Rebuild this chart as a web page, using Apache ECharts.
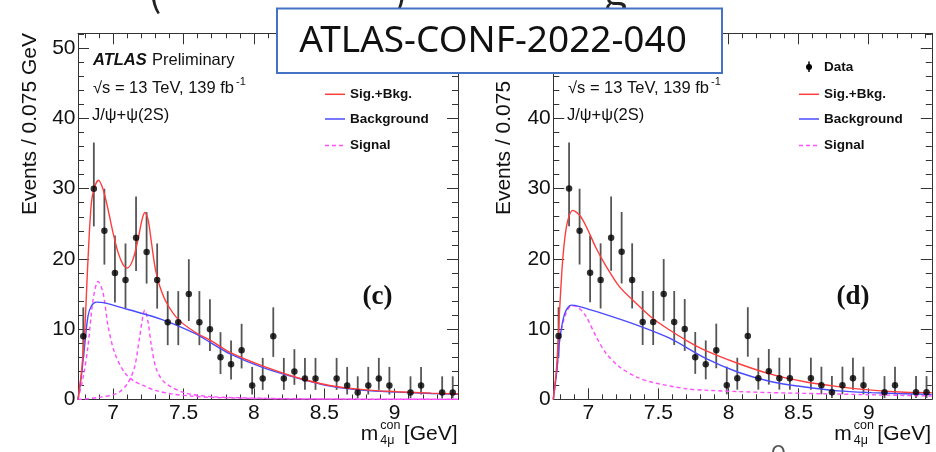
<!DOCTYPE html>
<html><head><meta charset="utf-8">
<script src="https://cdn.jsdelivr.net/npm/echarts/dist/echarts.min.js"></script>
<style>html,body{margin:0;padding:0;background:#fff}#c{width:936px;height:452px}</style>
</head><body><div id="c"></div>
<script>
// ---- data ----
const binCenters = [6.7875, 6.8625, 6.9375, 7.0125, 7.0875, 7.1625, 7.2375, 7.3125, 7.3875, 7.4625, 7.5375, 7.6125, 7.6875, 7.7625, 7.8375, 7.9125, 7.9875, 8.0625, 8.1375, 8.2125, 8.2875, 8.3625, 8.4375, 8.5875, 8.6625, 8.7375, 8.8125, 8.8875, 8.9625, 9.1125, 9.1875, 9.3375, 9.4125];
const counts = [9, 30, 24, 18, 17, 23, 21, 17, 11, 11, 15, 11, 10, 6, 5, 7, 2, 3, 9, 3, 4, 3, 3, 3, 2, 1, 2, 3, 2, 1, 2, 1, 1];
const errLow = [6.06, 24.63, 19.19, 13.81, 12.93, 18.29, 16.49, 12.93, 7.73, 7.73, 11.17, 7.73, 6.89, 3.62, 2.84, 4.42, 0.71, 1.37, 6.06, 1.37, 2.09, 1.37, 1.37, 1.37, 0.71, 0.17, 0.71, 1.37, 0.71, 0.17, 0.71, 0.17, 0.17];
const errHigh = [13.11, 36.56, 29.98, 23.32, 22.20, 28.87, 26.66, 22.20, 15.42, 15.42, 19.96, 15.42, 14.27, 9.58, 8.38, 10.77, 4.64, 5.92, 13.11, 5.92, 7.16, 5.92, 5.92, 5.92, 4.64, 3.30, 4.64, 5.92, 4.64, 3.30, 4.64, 3.30, 3.30];

const xTickLabels = [7, 7.5, 8, 8.5, 9];
const yTickLabels = [0, 10, 20, 30, 40, 50];

// panel (c)
const cSigBkgX = [6.75, 6.775, 6.797, 6.821, 6.845, 6.869, 6.895, 6.928, 6.964, 6.999, 7.035, 7.07, 7.10, 7.14, 7.177, 7.205, 7.225, 7.248, 7.272, 7.30, 7.331, 7.378, 7.462, 7.58, 7.70, 7.83, 8.07, 8.31, 8.54, 8.78, 9.02, 9.26, 9.45];
const cSigBkgY = [0, 4.0, 9.5, 19.9, 28.0, 30.3, 31.2, 29.9, 27.0, 23.7, 20.9, 19.2, 18.7, 19.9, 22.8, 25.6, 26.6, 25.6, 22.3, 18.5, 16.1, 13.8, 11.4, 9.6, 8.3, 6.7, 4.7, 3.1, 2.0, 1.4, 1.1, 0.9, 0.8];
const cBkgX = [6.75, 6.775, 6.797, 6.821, 6.845, 6.88, 6.94, 7.106, 7.343, 7.58, 7.70, 7.83, 8.07, 8.31, 8.54, 8.78, 9.02, 9.26, 9.45];
const cBkgY = [0, 3.5, 7.6, 11.85, 13.3, 13.85, 13.75, 12.8, 11.4, 9.4, 8.0, 6.5, 4.5, 3.05, 1.9, 1.3, 1.05, 0.85, 0.75];
const cSig1X = [6.75, 6.79, 6.821, 6.857, 6.892, 6.928, 6.964, 7.011, 7.082, 7.15, 7.225, 7.30, 7.414, 7.55, 7.70, 8.0, 8.5, 9.45];
const cSig1Y = [0, 3.5, 7.6, 14.2, 16.8, 15.2, 10.4, 6.6, 3.8, 2.6, 1.9, 1.3, 0.8, 0.5, 0.3, 0.15, 0.06, 0.02];
const cSig2X = [6.75, 6.9, 7.035, 7.106, 7.153, 7.189, 7.225, 7.248, 7.272, 7.307, 7.367, 7.51, 7.70, 7.90, 8.3, 9.45];
const cSig2Y = [0, 0.3, 0.95, 2.4, 4.7, 9.0, 12.7, 11.0, 7.6, 4.3, 2.4, 0.95, 0.4, 0.25, 0.1, 0.03];

// panel (d)
const dSigBkgX = [6.75, 6.775, 6.795, 6.819, 6.848, 6.89, 6.938, 6.985, 7.056, 7.128, 7.223, 7.342, 7.46, 7.58, 7.698, 7.83, 8.069, 8.307, 8.544, 8.781, 9.02, 9.257, 9.45];
const dSigBkgY = [0, 5.0, 12.7, 20.3, 25.0, 26.9, 26.2, 24.6, 21.5, 18.9, 16.0, 13.65, 11.5, 9.86, 8.4, 7.0, 5.1, 3.55, 2.5, 1.8, 1.3, 1.0, 0.95];
const dBkgX = [6.75, 6.775, 6.795, 6.831, 6.878, 6.938, 7.104, 7.342, 7.58, 7.83, 8.069, 8.307, 8.544, 8.781, 9.02, 9.257, 9.45];
const dBkgY = [0, 4.0, 8.4, 12.2, 13.4, 13.2, 12.2, 10.6, 8.7, 5.9, 3.85, 2.5, 1.75, 1.2, 0.95, 0.8, 0.7];
const dSigX = [6.75, 6.775, 6.795, 6.831, 6.878, 6.926, 6.985, 7.056, 7.128, 7.223, 7.342, 7.46, 7.698, 7.83, 8.07, 8.3, 8.54, 9.0, 9.45];
const dSigY = [0, 4.0, 8.4, 11.7, 13.3, 13.1, 11.75, 8.9, 6.5, 4.6, 3.2, 2.4, 1.5, 1.3, 1.1, 0.95, 0.85, 0.65, 0.47];

// ---- chart ----
const AX = '#333';
const FONT = 'Liberation Sans';
const X_MIN = 6.75, X_MAX = 9.45, Y_MAX = 52.1;
const zip = (xs, ys) => xs.map((x, i) => [x, ys[i]]);
const fmtX = v => { const r = Math.round(v * 1000) / 1000; return xTickLabels.includes(r) ? String(r) : ''; };
const fmtY = v => { const r = Math.round(v * 1000) / 1000; return yTickLabels.includes(r) ? String(r) : ''; };

function xAxisPair(gi) {
  const base = {
    type: 'value', gridIndex: gi, min: X_MIN, max: X_MAX, splitNumber: 5,
    axisLine: { show: true, onZero: false, lineStyle: { color: AX, width: 1 } },
    axisTick: { show: true, inside: true, length: 11, lineStyle: { color: AX, width: 1 } },
    minorTick: { show: true, splitNumber: 5, length: 5, lineStyle: { color: AX, width: 1 } },
    splitLine: { show: false }
  };
  return [
    Object.assign({}, base, { position: 'bottom',
      axisLabel: { show: true, margin: 3, fontSize: 21, fontFamily: FONT, color: '#111', formatter: fmtX } }),
    Object.assign({}, base, { position: 'top', axisLabel: { show: false } })
  ];
}
function yAxisPair(gi) {
  const base = {
    type: 'value', gridIndex: gi, min: 0, max: Y_MAX, interval: 10,
    axisLine: { show: true, onZero: false, lineStyle: { color: AX, width: 1 } },
    axisTick: { show: true, inside: true, length: 11, lineStyle: { color: AX, width: 1 } },
    minorTick: { show: true, splitNumber: 5, length: 6, lineStyle: { color: AX, width: 1 } },
    splitLine: { show: false }
  };
  return [
    Object.assign({}, base, { position: 'left',
      axisLabel: { show: true, margin: 2.5, fontSize: 21, fontFamily: FONT, color: '#111', formatter: fmtY } }),
    Object.assign({}, base, { position: 'right', axisLabel: { show: false } })
  ];
}

function panelSeries(gi, curves) {
  const xi = gi * 2, yi = gi * 2;
  const s = [];
  s.push({
    type: 'custom', xAxisIndex: xi, yAxisIndex: yi, z: 3,
    data: binCenters.map((x, i) => [x, errLow[i], errHigh[i]]),
    encode: { x: 0, y: [1, 2] },
    renderItem: (params, api) => {
      const x = api.value(0);
      const p1 = api.coord([x, api.value(1)]);
      const p2 = api.coord([x, api.value(2)]);
      return { type: 'line', shape: { x1: p1[0], y1: p1[1], x2: p2[0], y2: p2[1] },
        style: { stroke: '#555', lineWidth: 1.8 } };
    }
  });
  s.push({
    type: 'scatter', xAxisIndex: xi, yAxisIndex: yi, z: 6,
    symbol: 'circle', symbolSize: 6.5, itemStyle: { color: '#000' },
    data: zip(binCenters, counts)
  });
  curves.forEach(c => {
    s.push({
      type: 'line', xAxisIndex: xi, yAxisIndex: yi, z: 4,
      data: zip(c.x, c.y), showSymbol: false, symbol: 'none', smooth: 0.3,
      lineStyle: { color: c.color, width: 1.4, type: c.dash ? [4, 3] : 'solid' }
    });
  });
  return s;
}

const RED = '#ff3d3d', BLUE = '#4a4aff', MAG = '#ff4dff';

function T(x, y, text, font, opts) {
  opts = opts || {};
  return Object.assign({
    type: 'text', x: x, y: y, silent: true, z: opts.z || 50,
    style: { text: text, font: font, fill: opts.fill || '#111',
      align: opts.align || 'left', textAlign: opts.align || 'left',
      verticalAlign: opts.va || 'middle', textVerticalAlign: opts.va || 'middle' }
  }, opts.rotation ? { rotation: opts.rotation } : {});
}
function L(x1, y1, x2, y2, color, dash, w) {
  return { type: 'line', silent: true, z: 50,
    shape: { x1: x1, y1: y1, x2: x2, y2: y2 },
    style: { stroke: color, lineWidth: w || 1.5, lineDash: dash ? [4, 3] : null } };
}

const F16 = '16.5px "Liberation Sans"';
const FB = 'bold 13.5px "Liberation Sans"';
const elements = [];
// panel texts
[[93, 0], [568, 1]].forEach(([x0, gi]) => {
  elements.push(T(x0, 60, 'ATLAS', 'italic bold 16.5px "Liberation Sans"'));
  elements.push(T(x0 + 59, 60, 'Preliminary', F16));
  elements.push(T(x0, 88, '\u221As = 13 TeV, 139 fb', F16));
  elements.push(T(x0 + 143, 82, '-1', '11px "Liberation Sans"'));
  elements.push(T(x0 - 1, 115, 'J/\u03C8+\u03C8(2S)', F16));
});
// legends
[[325, 0], [799, 1]].forEach(([lx, gi]) => {
  const tx = lx + 25;
  elements.push(L(lx + 10, 61.5, lx + 10, 72, '#000', false, 1.5));
  elements.push({ type: 'circle', silent: true, z: 50, shape: { cx: lx + 10, cy: 67, r: 3 }, style: { fill: '#000' } });
  elements.push(T(tx, 67, 'Data', FB));
  elements.push(L(lx, 94.3, lx + 20, 94.3, RED));
  elements.push(T(tx, 94.3, 'Sig.+Bkg.', FB));
  elements.push(L(lx, 119, lx + 20, 119, BLUE));
  elements.push(T(tx, 119, 'Background', FB));
  elements.push(L(lx, 145.5, lx + 20, 145.5, MAG, true));
  elements.push(T(tx, 145.5, 'Signal', FB));
});
// panel tags
elements.push(T(377.5, 297, '(c)', 'bold 27px "Liberation Serif"', { align: 'center' }));
elements.push(T(853, 297.5, '(d)', 'bold 27px "Liberation Serif"', { align: 'center' }));
// axis titles
[[360.7, 457.5, 30], [834.3, 931, 504]].forEach(([mx, rx, yx]) => {
  elements.push(T(mx, 434, 'm', '21px "Liberation Sans"'));
  elements.push(T(mx + 19.5, 426, 'con', '12.5px "Liberation Sans"'));
  elements.push(T(mx + 19.5, 441, '4\u03BC', '12.5px "Liberation Sans"'));
  elements.push(T(rx, 434, '[GeV]', '21px "Liberation Sans"', { align: 'right' }));
  elements.push(T(yx, 33, 'Events / 0.075 GeV', '21px "Liberation Sans"', { align: 'right', rotation: Math.PI / 2 }));
});
// slide fragments cut by the frame
elements.push(T(148, 11, '(', '40px "Noto Sans CJK SC"', { va: 'bottom', fill: '#222' }));
elements.push(T(394, 11, ')', '40px "Noto Sans CJK SC"', { va: 'bottom', fill: '#222' }));
elements.push(T(604, 9, 'g', '40px "Noto Sans CJK SC"', { va: 'bottom', fill: '#222' }));
elements.push(T(778.5, 442, 'O', '20px "Noto Sans CJK SC"', { align: 'center', va: 'top', fill: '#555' }));
// title box
elements.push({ type: 'rect', silent: true, z: 100, shape: { x: 277, y: 8.5, width: 445, height: 64.5 },
  style: { fill: '#fff', stroke: '#4472C4', lineWidth: 2 } });
elements.push(T(493, 41, 'ATLAS-CONF-2022-040', '37px "Noto Sans"', { align: 'center', z: 101 }));

const chart = echarts.init(document.getElementById('c'), null, { renderer: 'canvas' });
chart.setOption({
  animation: false,
  backgroundColor: '#fff',
  grid: [
    { left: 78, top: 33.3, width: 380, height: 366.2 },
    { left: 553.3, top: 33.3, width: 378.5, height: 366 }
  ],
  xAxis: [].concat(xAxisPair(0), xAxisPair(1)),
  yAxis: [].concat(yAxisPair(0), yAxisPair(1)),
  series: [].concat(
    panelSeries(0, [
      { x: cSig1X, y: cSig1Y, color: MAG, dash: true },
      { x: cSig2X, y: cSig2Y, color: MAG, dash: true },
      { x: cBkgX, y: cBkgY, color: BLUE },
      { x: cSigBkgX, y: cSigBkgY, color: RED }
    ]),
    panelSeries(1, [
      { x: dSigX, y: dSigY, color: MAG, dash: true },
      { x: dBkgX, y: dBkgY, color: BLUE },
      { x: dSigBkgX, y: dSigBkgY, color: RED }
    ])
  ),
  graphic: { elements: elements }
});
</script></body></html>
